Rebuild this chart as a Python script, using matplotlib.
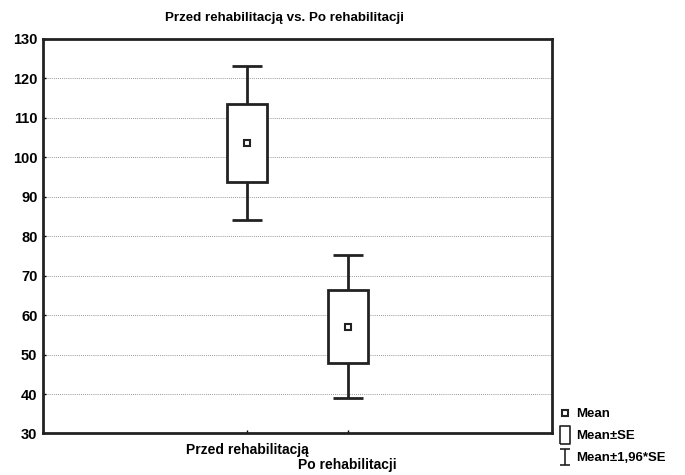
import matplotlib
matplotlib.use("Agg")
import matplotlib.pyplot as plt
from matplotlib.lines import Line2D
from matplotlib.path import Path
import numpy as np

# czcionka: pogrubiona, jak w Statistica
plt.rcParams['font.family'] = ['Liberation Sans', 'DejaVu Sans']
plt.rcParams['font.weight'] = 'bold'

# dane
categories = ["Przed rehabilitacją", "Po rehabilitacji"]
means = [103.6, 57.1]
se = [9.9, 9.2]
y_ticks = [30, 40, 50, 60, 70, 80, 90, 100, 110, 120, 130]

x = np.array([1, 2])
m = np.array(means)
s = np.array(se)

fig = plt.figure(figsize=(6.85, 4.75), dpi=100)
ax = fig.add_axes([0.0628, 0.0874, 0.7430, 0.8309])

# wąsy (Mean±1,96*SE)
ax.errorbar(x, m, yerr=1.96 * s, fmt='none', ecolor='#222222', elinewidth=2,
            capsize=11, capthick=2, zorder=2)
# pudełko (Mean±SE)
ax.bar(x, 2 * s, bottom=m - s, width=0.4, facecolor='white', edgecolor='#222222',
       linewidth=2, zorder=3)
# średnia
ax.plot(x, m, linestyle='none', marker='s', markersize=4.5, markerfacecolor='white',
        markeredgecolor='#222222', markeredgewidth=1.5, zorder=4)

ax.set_xlim(-1.03, 4.03)
ax.set_ylim(30, 130)
ax.set_yticks(y_ticks)
# druga etykieta niżej (naprzemiennie) - na tickach minor
ax.set_xticks([x[0]])
ax.set_xticklabels([categories[0]])
ax.set_xticks([x[1]], minor=True)
ax.set_xticklabels([categories[1]], minor=True)
ax.tick_params(axis='both', which='both', direction='in', length=2, width=1)
ax.tick_params(axis='x', which='major', labelsize=10, pad=7)
ax.tick_params(axis='x', which='minor', labelsize=10, pad=18)
ax.tick_params(axis='y', labelsize=10.5, pad=4)
for lab in ax.get_xticklabels() + ax.get_xticklabels(minor=True) + ax.get_yticklabels():
    lab.set_fontweight('bold')
ax.yaxis.grid(True, linestyle=(0, (1, 1.5)), color='#555555', linewidth=0.6, alpha=0.8, zorder=0)
ax.set_axisbelow(True)
for sp in ax.spines.values():
    sp.set_linewidth(2)
    sp.set_color('#222222')

fig.text(0.415, 0.963, "Przed rehabilitacją vs. Po rehabilitacji", ha='center', va='center',
         fontsize=9.6, fontweight='bold')

# legenda
box_marker = [(-0.6, -1), (0.6, -1), (0.6, 1), (-0.6, 1), (-0.6, -1)]
ibar_marker = Path([(-0.6, 1), (0.6, 1), (0, 1), (0, -1), (-0.6, -1), (0.6, -1)],
                   [Path.MOVETO, Path.LINETO, Path.MOVETO, Path.LINETO, Path.MOVETO, Path.LINETO])
h_mean = Line2D([], [], linestyle='none', marker='s', markersize=4.5, markerfacecolor='white',
                markeredgecolor='#222222', markeredgewidth=1.5)
h_box = Line2D([], [], linestyle='none', marker=box_marker, markersize=13, markerfacecolor='white',
               markeredgecolor='#222222', markeredgewidth=1.2)
h_err = Line2D([], [], linestyle='none', marker=ibar_marker, markersize=11, markerfacecolor='none',
               markeredgecolor='#222222', markeredgewidth=1.2)
fig.legend([h_mean, h_box, h_err], ["Mean", "Mean±SE", "Mean±1,96*SE"],
           loc='lower left', bbox_to_anchor=(0.800, 0.0), frameon=False,
           fontsize=9.5, handlelength=1.0, handletextpad=0.3, labelspacing=0.75,
           borderpad=0.3)

fig.savefig("out.png", dpi=100)
